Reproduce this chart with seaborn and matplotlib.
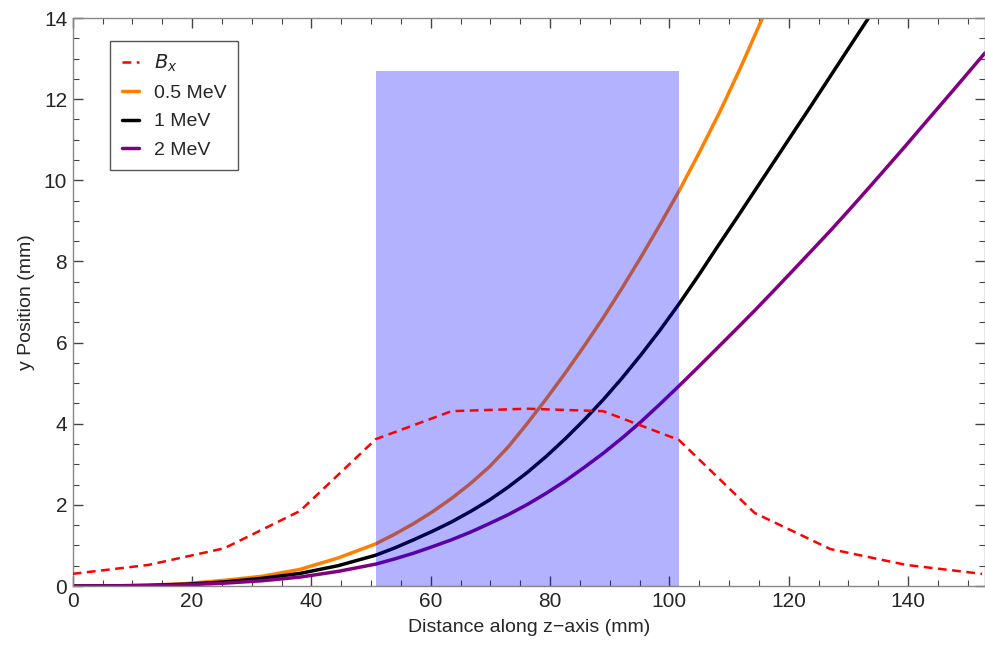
"""Electron trajectories through a dipole field region, with the B_x profile."""

import matplotlib

matplotlib.use("Agg")
import matplotlib.pyplot as plt
import pandas as pd
import seaborn as sns
from matplotlib.patches import Rectangle
from matplotlib.ticker import MultipleLocator

# B_x field profile (scaled), sampled every 12.7 mm
bx_z = [0, 12.7, 25.4, 38.1, 50.8, 63.5, 76.2, 88.9, 101.6, 114.3, 127.0, 139.7, 152.4]
bx_val = [0.30, 0.52, 0.93, 1.85, 3.62, 4.31, 4.37, 4.31, 3.60, 1.80, 0.91, 0.52, 0.30]

# trajectories
z_05 = [0, 6.35, 12.7, 19.05, 25.4, 31.75, 38.1, 44.45, 50.8, 54.0, 57.15, 60.3, 63.5,
        66.7, 69.85, 73.0, 76.2, 79.4, 82.55, 85.7, 88.9, 92.1, 95.25, 98.4, 101.6,
        105.0, 108.5, 112.0, 115.6, 120.0]
y_05 = [0, 0.004, 0.02, 0.06, 0.14, 0.24, 0.41, 0.69, 1.04, 1.28, 1.54, 1.83, 2.16,
        2.53, 2.94, 3.43, 4.01, 4.62, 5.25, 5.91, 6.61, 7.35, 8.11, 8.90, 9.73,
        10.68, 11.70, 12.80, 14.0, 15.4]

z_1 = [0, 6.35, 12.7, 19.05, 25.4, 31.75, 38.1, 44.45, 50.8, 54.0, 57.15, 60.3, 63.5,
       66.7, 69.85, 73.0, 76.2, 79.4, 82.55, 85.7, 88.9, 92.1, 95.25, 98.4, 101.6,
       105.0, 108.0, 111.2, 114.3, 117.5, 120.6, 123.8, 127.0, 130.2, 133.6, 140.0]
y_1 = [0, 0.003, 0.015, 0.045, 0.10, 0.19, 0.31, 0.50, 0.76, 0.94, 1.14, 1.35, 1.58,
       1.84, 2.12, 2.44, 2.80, 3.20, 3.63, 4.09, 4.59, 5.13, 5.70, 6.30, 6.95,
       7.68, 8.35, 9.05, 9.74, 10.45, 11.14, 11.85, 12.57, 13.29, 14.05, 15.5]

z_2 = [0, 6.35, 12.7, 19.05, 25.4, 31.75, 38.1, 44.45, 50.8, 54.0, 57.15, 60.3, 63.5,
       66.7, 69.85, 73.0, 76.2, 79.4, 82.55, 85.7, 88.9, 92.1, 95.25, 98.4, 101.6,
       105.0, 108.0, 111.2, 114.3, 117.5, 120.6, 123.8, 127.0, 130.2, 133.4, 136.5,
       139.7, 142.9, 146.0, 149.2, 152.9]
y_2 = [0, 0.002, 0.01, 0.03, 0.07, 0.13, 0.22, 0.36, 0.54, 0.67, 0.81, 0.97, 1.14,
       1.33, 1.54, 1.76, 2.01, 2.29, 2.59, 2.92, 3.27, 3.65, 4.05, 4.48, 4.93,
       5.42, 5.86, 6.33, 6.79, 7.28, 7.76, 8.26, 8.76, 9.28, 9.81, 10.33,
       10.87, 11.42, 11.95, 12.50, 13.14]

# magnet pole region
field_z = (50.8, 101.6)
field_top = 12.7

sns.set_style("ticks")
plt.rcParams["font.family"] = ["Liberation Sans", "DejaVu Sans"]

traj = pd.concat(
    [
        pd.DataFrame({"z": z_05, "y": y_05, "energy": "0.5 MeV"}),
        pd.DataFrame({"z": z_1, "y": y_1, "energy": "1 MeV"}),
        pd.DataFrame({"z": z_2, "y": y_2, "energy": "2 MeV"}),
    ],
    ignore_index=True,
)
bx = pd.DataFrame({"z": bx_z, "y": bx_val})

fig = plt.figure(figsize=(9.85, 6.58), dpi=100)
ax = fig.add_axes([0.0738, 0.1094, 0.9262, 0.8632])

sns.lineplot(data=bx, x="z", y="y", color="#ff0000", lw=1.8, ax=ax, zorder=6,
             label="$B_x$", dashes=False, linestyle=(0, (3.5, 2.2)))
sns.lineplot(data=traj, x="z", y="y", hue="energy", sort=False, estimator=None,
             palette={"0.5 MeV": "#ff8000", "1 MeV": "black", "2 MeV": "#800080"},
             lw=2.5, ax=ax)

# translucent blue slab drawn over the trajectories (but under B_x)
ax.add_patch(Rectangle((field_z[0], 0), field_z[1] - field_z[0], field_top,
                       facecolor=(0, 0, 1, 0.3), edgecolor="none", zorder=5))

ax.set_xlim(0, 152.9)
ax.set_ylim(0, 14)
ax.xaxis.set_major_locator(MultipleLocator(20))
ax.xaxis.set_minor_locator(MultipleLocator(5))
ax.yaxis.set_major_locator(MultipleLocator(2))
ax.yaxis.set_minor_locator(MultipleLocator(0.5))
ax.tick_params(which="both", direction="in", top=True, right=True,
               color="#444444", labelsize=15, pad=4)
ax.tick_params(which="major", length=7, width=1)
ax.tick_params(which="minor", length=4, width=0.8)
for sp in ax.spines.values():
    sp.set_color("#888888")
    sp.set_linewidth(1)

ax.set_xlabel("Distance along z\u2212axis (mm)", fontsize=14, labelpad=6)
ax.set_ylabel("y Position (mm)", fontsize=14, labelpad=6)

leg = ax.legend(loc="upper left", bbox_to_anchor=(0.041, 0.96), borderaxespad=0,
                fontsize=14, handlelength=0.9, handletextpad=0.75, borderpad=0.6,
                labelspacing=0.55, fancybox=False, framealpha=1)
leg.get_frame().set_edgecolor("#555555")
leg.get_frame().set_linewidth(1)
leg.set_zorder(10)

fig.savefig("out.png", dpi=100)
